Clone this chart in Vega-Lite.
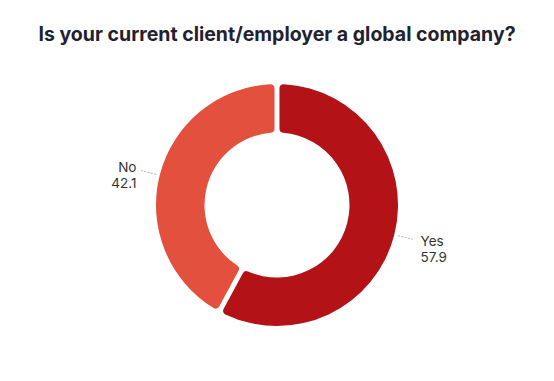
{
  "$schema": "https://vega.github.io/schema/vega-lite/v6.json",
  "width": 554,
  "height": 290,
  "autosize": "none",
  "padding": {"left": 0, "right": 0, "top": 60, "bottom": 0},
  "background": "white",
  "title": {
    "text": "Is your current client/employer a global company?",
    "font": "Inter",
    "fontSize": 19.5,
    "fontWeight": "bold",
    "color": "#1f2230",
    "anchor": "middle",
    "offset": 15
  },
  "data": {
    "values": [
      {"answer": "Yes", "value": 57.9, "order": 1},
      {"answer": "No", "value": 42.1, "order": 2}
    ]
  },
  "transform": [
    {"calculate": "datum.answer + '\\n' + format(datum.value, '.1f')", "as": "label"},
    {"stack": "value", "sort": [{"field": "order"}], "as": ["v0", "v1"]},
    {"calculate": "(datum.v0 + datum.v1) / 2", "as": "mid"}
  ],
  "layer": [
    {
      "mark": {"type": "arc", "innerRadius": 72.5, "outerRadius": 121, "padAngle": 0.035, "cornerRadius": 4},
      "encoding": {
        "theta": {"field": "v0", "type": "quantitative", "scale": {"domain": [0, 100]}},
        "theta2": {"field": "v1"},
        "color": {
          "field": "answer",
          "type": "nominal",
          "scale": {"domain": ["Yes", "No"], "range": ["#b31217", "#e3513e"]},
          "legend": null
        }
      }
    },
    {
      "mark": {"type": "arc", "innerRadius": 124, "outerRadius": 140, "stroke": "#bdbdbd", "strokeWidth": 1, "strokeDash": [1.5, 2], "fill": null},
      "encoding": {
        "theta": {"field": "mid", "type": "quantitative", "scale": {"domain": [0, 100]}},
        "theta2": {"field": "mid"}
      }
    },
    {
      "transform": [{"filter": "datum.answer == 'Yes'"}],
      "mark": {"type": "text", "radius": 145, "align": "left", "baseline": "middle", "dx": 3, "dy": 1, "font": "Inter", "fontSize": 13.5, "color": "#333333", "lineBreak": "\n", "lineHeight": 16},
      "encoding": {
        "theta": {"field": "mid", "type": "quantitative", "scale": {"domain": [0, 100]}},
        "text": {"field": "label"}
      }
    },
    {
      "transform": [{"filter": "datum.answer == 'No'"}],
      "mark": {"type": "text", "radius": 145, "align": "right", "baseline": "middle", "dx": 0, "dy": -1, "font": "Inter", "fontSize": 13.5, "color": "#333333", "lineBreak": "\n", "lineHeight": 16},
      "encoding": {
        "theta": {"field": "mid", "type": "quantitative", "scale": {"domain": [0, 100]}},
        "text": {"field": "label"}
      }
    }
  ]
}
